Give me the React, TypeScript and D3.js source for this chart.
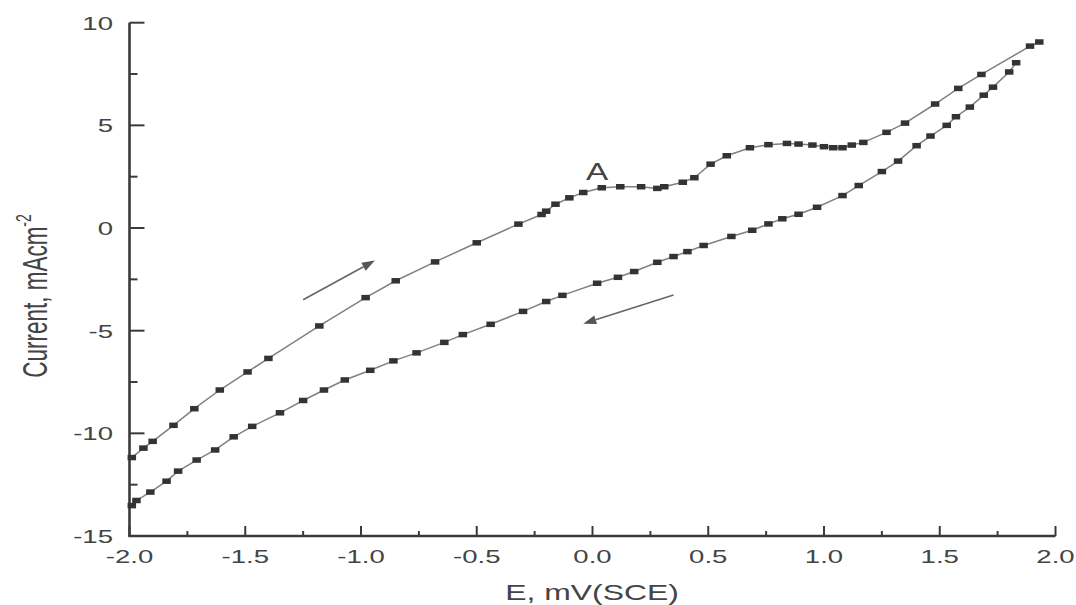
import React from "react";
import * as d3 from "d3";

// forward scan (upper branch)
const upperE = [-1.99, -1.94, -1.9, -1.81, -1.72, -1.61, -1.49, -1.4, -1.18, -0.98, -0.85, -0.68, -0.5, -0.32, -0.22, -0.2, -0.16, -0.1, -0.04, 0.04, 0.12, 0.21, 0.28, 0.31, 0.39, 0.44, 0.51, 0.58, 0.68, 0.76, 0.84, 0.89, 0.95, 1.0, 1.04, 1.08, 1.12, 1.17, 1.27, 1.35, 1.48, 1.58, 1.68, 1.89, 1.93];
const upperI = [-11.18, -10.72, -10.39, -9.61, -8.8, -7.89, -7.01, -6.35, -4.77, -3.39, -2.57, -1.65, -0.72, 0.19, 0.66, 0.82, 1.16, 1.47, 1.73, 1.96, 2.01, 2.01, 1.93, 2.01, 2.23, 2.45, 3.11, 3.52, 3.91, 4.06, 4.12, 4.09, 4.04, 3.96, 3.91, 3.91, 4.04, 4.17, 4.66, 5.11, 6.04, 6.8, 7.48, 8.86, 9.06];

// reverse scan (lower branch)
const lowerE = [1.83, 1.8, 1.73, 1.69, 1.63, 1.57, 1.53, 1.46, 1.4, 1.32, 1.25, 1.15, 1.08, 0.97, 0.89, 0.82, 0.76, 0.69, 0.6, 0.48, 0.41, 0.35, 0.28, 0.18, 0.11, 0.02, -0.13, -0.2, -0.3, -0.44, -0.56, -0.64, -0.76, -0.86, -0.96, -1.07, -1.16, -1.25, -1.35, -1.47, -1.55, -1.63, -1.71, -1.79, -1.84, -1.91, -1.97, -1.99];
const lowerI = [8.05, 7.6, 6.86, 6.47, 5.89, 5.42, 5.0, 4.48, 4.01, 3.26, 2.75, 2.07, 1.58, 1.01, 0.67, 0.45, 0.2, -0.11, -0.41, -0.85, -1.15, -1.39, -1.67, -2.12, -2.4, -2.69, -3.28, -3.58, -4.06, -4.69, -5.19, -5.57, -6.08, -6.47, -6.93, -7.4, -7.89, -8.4, -9.0, -9.66, -10.17, -10.81, -11.3, -11.84, -12.33, -12.86, -13.27, -13.52];

const xTicks = [-2.0, -1.5, -1.0, -0.5, 0.0, 0.5, 1.0, 1.5, 2.0];
const xMinor = [-1.75, -1.25, -0.75, -0.25, 0.25, 0.75, 1.25, 1.75];
const yTicks = [-15, -10, -5, 0, 5, 10];
const yMinor = [-12.5, -7.5, -2.5, 2.5, 7.5];

// scan direction arrows [E0, I0, E1, I1]
const arrowUp = [-1.25, -3.49, -0.94, -1.58];
const arrowDown = [0.35, -3.26, -0.04, -4.66];
const peakLabel = { text: "A", e: 0.02, i: 2.33 };

const W = 1076;
const H = 605;
const SX = 1.45; // the source picture is stretched sideways
const FONT = "'Liberation Sans', Arial, sans-serif";
const AXIS = "#3a3a3a";
const TXT = "#444";

const x = d3.scaleLinear().domain([-2, 2]).range([129.5, 1055.5]);
const y = d3.scaleLinear().domain([-15, 10]).range([536, 22.7]);

const Stretched = ({ tx, ty, size, anchor = "middle", rotate = 0, sx = SX, children }: any) => (
  <text
    transform={`translate(${tx},${ty}) scale(${sx},1)${rotate ? ` rotate(${rotate})` : ""}`}
    textAnchor={anchor}
    fontFamily={FONT}
    fontSize={size}
    fill={TXT}
  >
    {children}
  </text>
);

const Arrow = ({ a }: { a: number[] }) => {
  const x0 = x(a[0]), y0 = y(a[1]), x1 = x(a[2]), y1 = y(a[3]);
  const ang = Math.atan2(y1 - y0, x1 - x0);
  const len = 13, half = 4.5;
  const bx = x1 - len * Math.cos(ang), by = y1 - len * Math.sin(ang);
  const px = -Math.sin(ang) * half, py = Math.cos(ang) * half;
  return (
    <g>
      <line x1={x0} y1={y0} x2={bx} y2={by} stroke="#666" strokeWidth={1.6} />
      <path d={`M${x1},${y1}L${bx + px},${by + py}L${bx - px},${by - py}Z`} fill="#555" />
    </g>
  );
};

export default function App() {
  const upper = upperE.map((e, k) => [e, upperI[k]] as [number, number]);
  const lower = lowerE.map((e, k) => [e, lowerI[k]] as [number, number]);
  const line = d3.line<[number, number]>().x((d) => x(d[0])).y((d) => y(d[1]));
  const mw = 8.5, mh = 5.5;

  return (
    <svg width={W} height={H} style={{ position: "absolute", left: 0, top: 0, background: "#fff" }}>
      {/* axes */}
      <line x1={x(-2)} y1={y(10)} x2={x(-2)} y2={y(-15)} stroke={AXIS} strokeWidth={2.6} />
      <line x1={x(-2) - 1.3} y1={y(-15)} x2={x(2)} y2={y(-15)} stroke={AXIS} strokeWidth={2.6} />
      {yTicks.map((t) => (
        <line key={"yt" + t} x1={x(-2)} x2={x(-2) + 15} y1={y(t)} y2={y(t)} stroke={AXIS} strokeWidth={2} />
      ))}
      {yMinor.map((t) => (
        <line key={"ym" + t} x1={x(-2)} x2={x(-2) + 8} y1={y(t)} y2={y(t)} stroke={AXIS} strokeWidth={2} />
      ))}
      {xTicks.map((t) => (
        <line key={"xt" + t} x1={x(t)} x2={x(t)} y1={y(-15)} y2={y(-15) - 10} stroke={AXIS} strokeWidth={2} />
      ))}
      {xMinor.map((t) => (
        <line key={"xm" + t} x1={x(t)} x2={x(t)} y1={y(-15)} y2={y(-15) - 5} stroke={AXIS} strokeWidth={2} />
      ))}
      {yTicks.map((t) => (
        <Stretched key={"yl" + t} tx={113} ty={y(t) + 7} size={19} anchor="end">
          {d3.format("d")(t).replace("−", "-")}
        </Stretched>
      ))}
      {xTicks.map((t) => (
        <Stretched key={"xl" + t} tx={x(t)} ty={563} size={19}>
          {d3.format(".1f")(t).replace("−", "-")}
        </Stretched>
      ))}
      <Stretched tx={592} ty={600} size={22}>E, mV(SCE)</Stretched>
      <Stretched tx={47} ty={296} size={22.5} rotate={-90} sx={1.6}>
        Current, mAcm
        <tspan fontSize={14} dy={-10}>-2</tspan>
      </Stretched>

      {/* curves */}
      <path d={line(upper) || ""} fill="none" stroke="#808080" strokeWidth={1.5} />
      <path d={line(lower) || ""} fill="none" stroke="#808080" strokeWidth={1.5} />
      {upper.concat(lower).map((d, k) => (
        <rect key={"m" + k} x={x(d[0]) - mw / 2} y={y(d[1]) - mh / 2} width={mw} height={mh} fill="#333" />
      ))}

      <Arrow a={arrowUp} />
      <Arrow a={arrowDown} />
      <Stretched tx={x(peakLabel.e)} ty={y(peakLabel.i)} size={23}>{peakLabel.text}</Stretched>
    </svg>
  );
}
